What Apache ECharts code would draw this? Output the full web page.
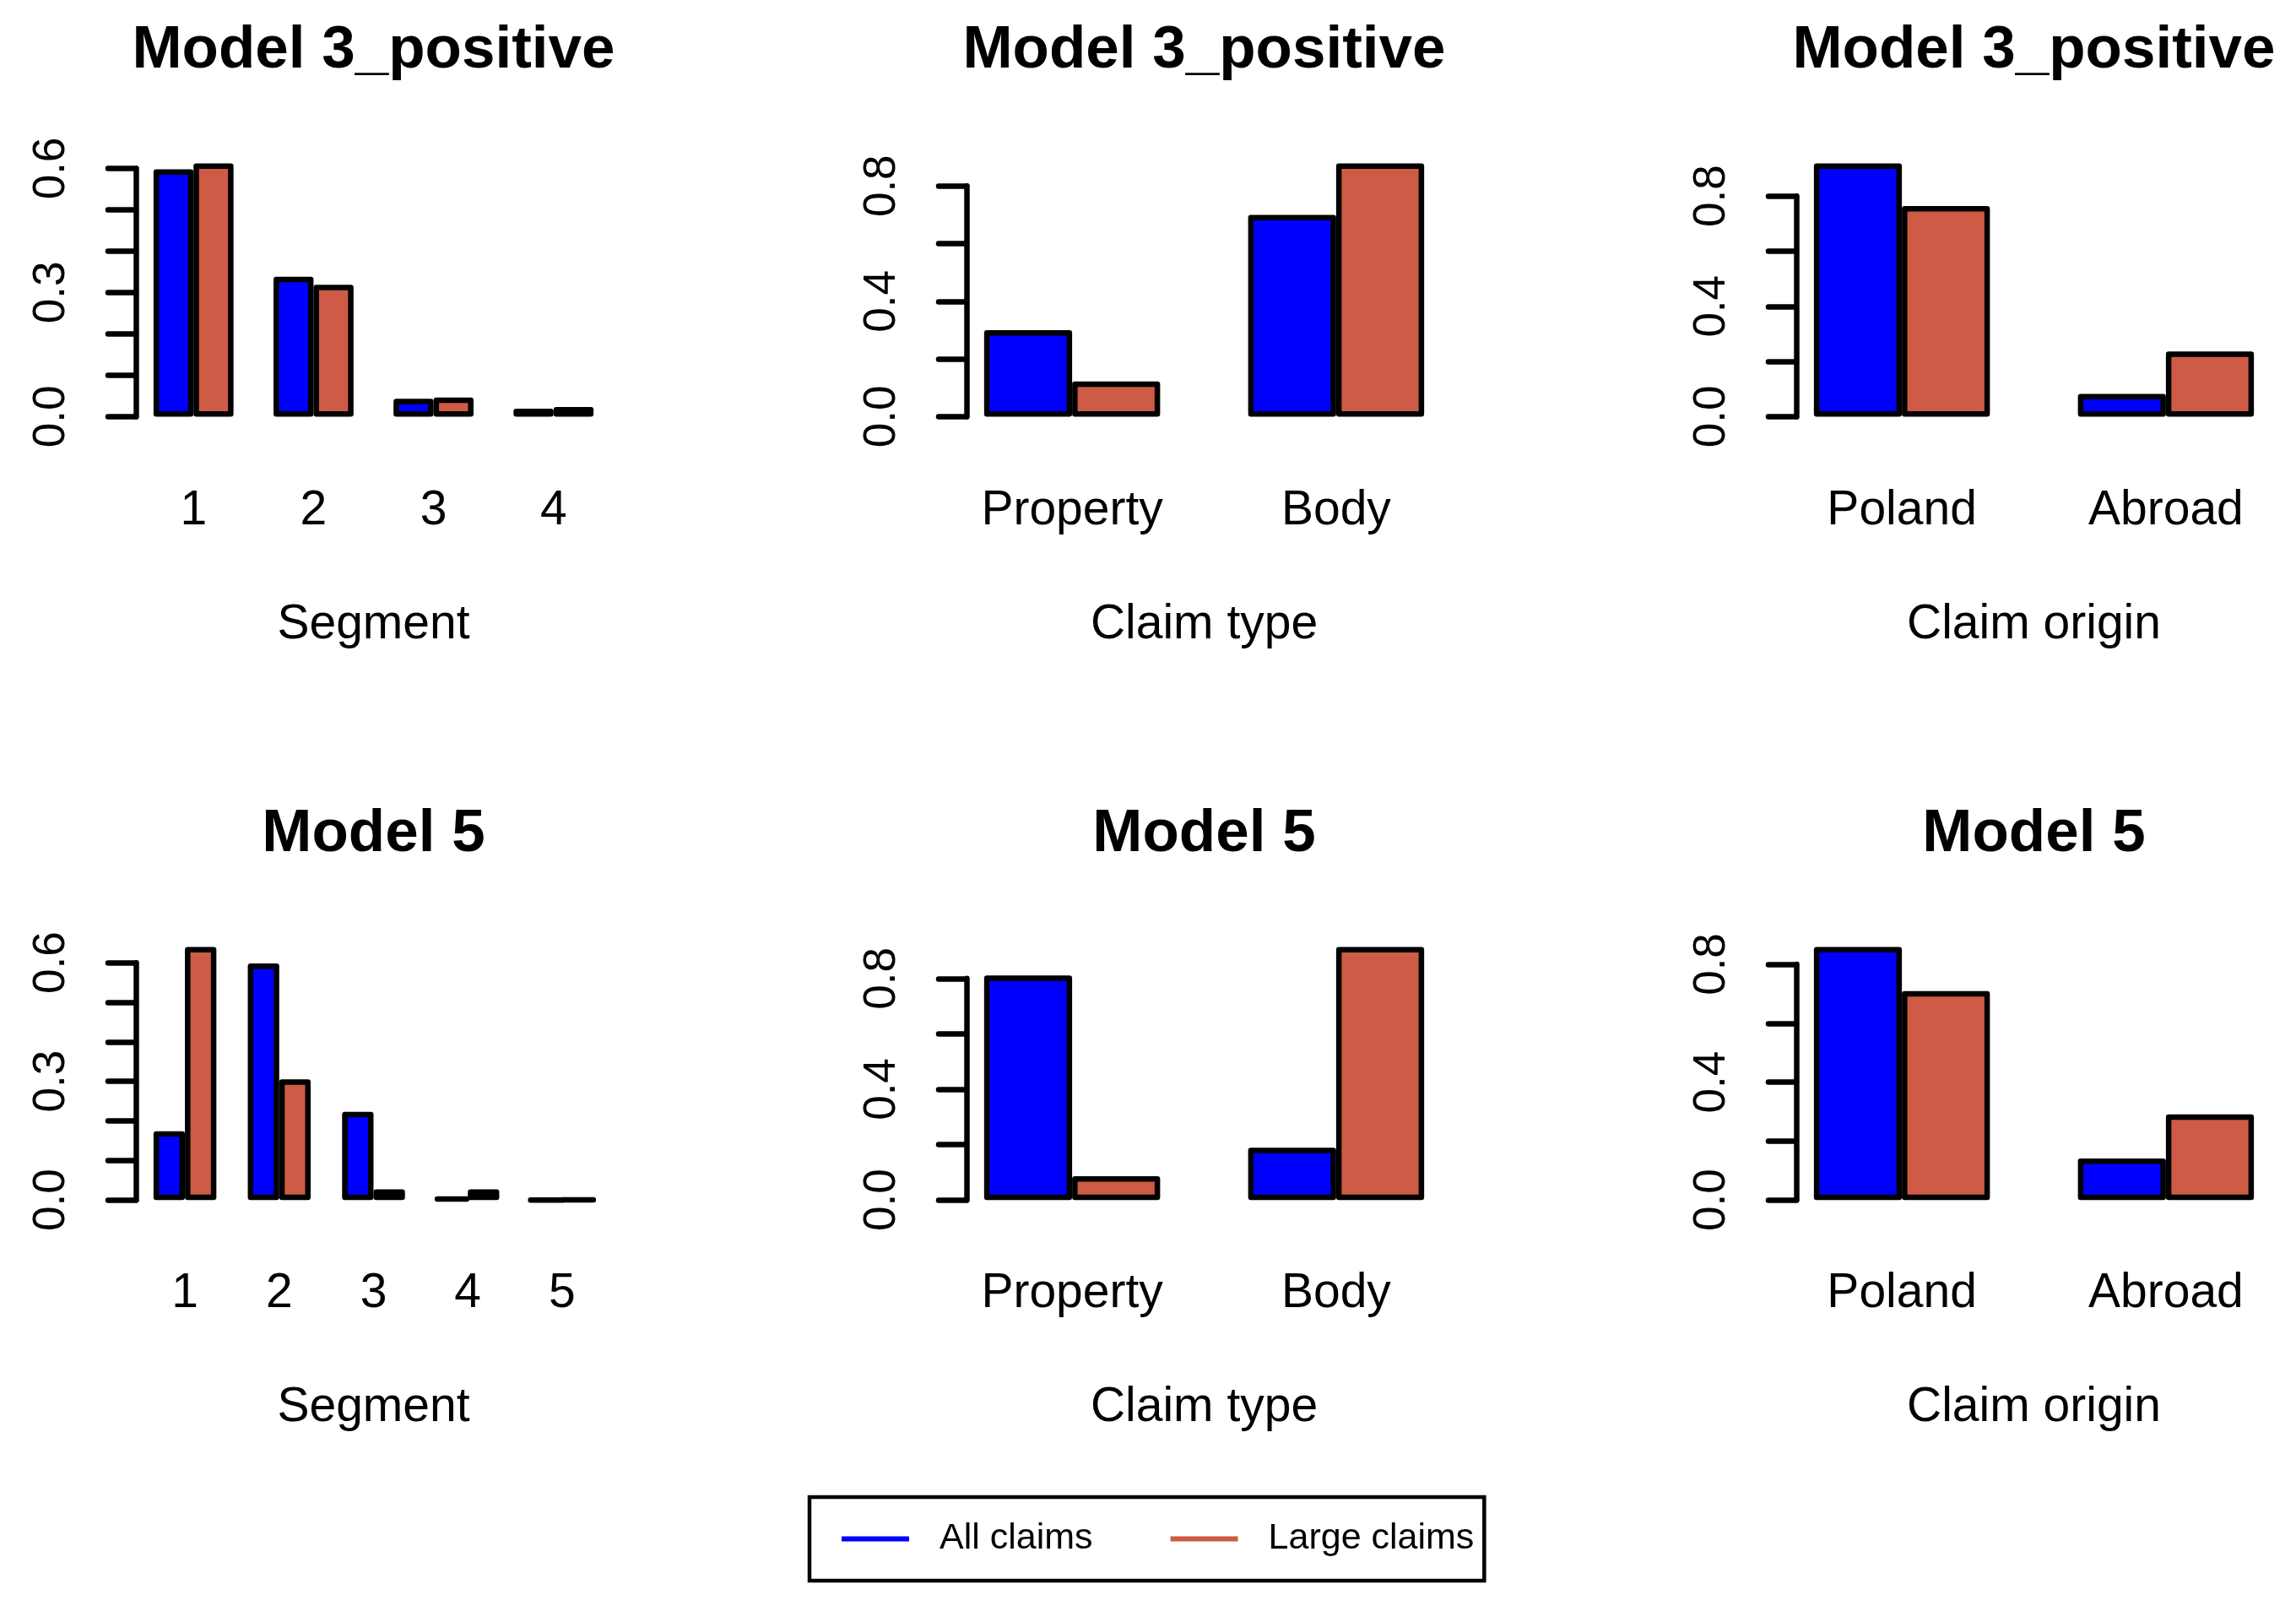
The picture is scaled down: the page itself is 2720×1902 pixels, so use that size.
<!DOCTYPE html>
<html>
<head>
<meta charset="utf-8">
<script src="https://cdn.jsdelivr.net/npm/echarts@6/dist/echarts.min.js"></script>
<style>
html,body{margin:0;padding:0;background:#ffffff;}
#chart{width:2720px;height:1902px;}
</style>
</head>
<body>
<div id="chart"></div>
<script>
// ---------------- data ----------------
const seriesNames = ['All claims', 'Large claims'];
const segments4 = ['1', '2', '3', '4'];
const segments5 = ['1', '2', '3', '4', '5'];
const claimTypes = ['Property', 'Body'];
const claimOrigins = ['Poland', 'Abroad'];

const m3SegmentAll   = [0.598, 0.338, 0.043, 0.019];
const m3SegmentLarge = [0.612, 0.319, 0.046, 0.023];
const m3TypeAll      = [0.300, 0.700];
const m3TypeLarge    = [0.122, 0.878];
const m3OriginAll    = [0.918, 0.082];
const m3OriginLarge  = [0.764, 0.236];

const m5SegmentAll   = [0.174, 0.598, 0.223, 0.005, 0.000];
const m5SegmentLarge = [0.640, 0.305, 0.027, 0.027, 0.001];
const m5TypeAll      = [0.811, 0.189];
const m5TypeLarge    = [0.086, 0.914];
const m5OriginAll    = [0.859, 0.141];
const m5OriginLarge  = [0.709, 0.291];

const ticksFineLabels   = ['0.0', '0.3', '0.6'];
const ticksCoarseLabels = ['0.0', '0.4', '0.8'];
const panelTitles = ['Model 3_positive', 'Model 3_positive', 'Model 3_positive', 'Model 5', 'Model 5', 'Model 5'];
const axisTitles = ['Segment', 'Claim type', 'Claim origin'];

const panels = [
  { title: panelTitles[0], cats: segments4,    all: m3SegmentAll, large: m3SegmentLarge, xName: axisTitles[0], top: 0.6, step: 0.1, labels: ticksFineLabels },
  { title: panelTitles[1], cats: claimTypes,   all: m3TypeAll,    large: m3TypeLarge,    xName: axisTitles[1], top: 0.8, step: 0.2, labels: ticksCoarseLabels },
  { title: panelTitles[2], cats: claimOrigins, all: m3OriginAll,  large: m3OriginLarge,  xName: axisTitles[2], top: 0.8, step: 0.2, labels: ticksCoarseLabels },
  { title: panelTitles[3], cats: segments5,    all: m5SegmentAll, large: m5SegmentLarge, xName: axisTitles[0], top: 0.6, step: 0.1, labels: ticksFineLabels },
  { title: panelTitles[4], cats: claimTypes,   all: m5TypeAll,    large: m5TypeLarge,    xName: axisTitles[1], top: 0.8, step: 0.2, labels: ticksCoarseLabels },
  { title: panelTitles[5], cats: claimOrigins, all: m5OriginAll,  large: m5OriginLarge,  xName: axisTitles[2], top: 0.8, step: 0.2, labels: ticksCoarseLabels }
];

// ---------------- layout / style ----------------
const FONT = 'Liberation Sans, Arial, Helvetica, sans-serif';
const BLUE = '#0000FF';
const RED = '#CD5B45';
const PLOT_LEFT = [161, 1145, 2128];
const PLOT_W = 563;
const PLOT_BOTTOM = [508.5, 1436.3];
const PLOT_H = 327;
const TITLE_ABOVE = 121;
const LW = 6.5;

const grids = [], xAxes = [], yAxes = [], series = [], titles = [];

panels.forEach((p, i) => {
  const r = Math.floor(i / 3), c = i % 3;
  const n = p.cats.length;
  // horizontal user range (R barplot style: bars width 1, group space 1, 4% extension)
  const units = 3 * n - 1;
  const extX = 0.04 * units;
  const usr0 = 1 - extX;
  const pxX = PLOT_W / (units + 2 * extX);
  const gridLeft = PLOT_LEFT[c] + (0.5 - usr0) * pxX;
  const gridW = 3 * n * pxX;
  // vertical user range
  const M = Math.max(...p.all, ...p.large);
  const lo = -0.01 * M;
  const extY = 0.04 * (M - lo);
  const y0 = lo - extY, y1 = M + extY;
  const pxY = PLOT_H / (y1 - y0);
  const zero = PLOT_BOTTOM[r] + y0 * pxY;
  const gridTop = zero - p.top * pxY;
  const gridH = p.top * pxY;

  grids.push({ left: gridLeft, top: gridTop, width: gridW, height: gridH, containLabel: false, outerBoundsMode: 'none' });

  xAxes.push({
    type: 'category', gridIndex: i, data: p.cats,
    axisLine: { show: false }, axisTick: { show: false }, splitLine: { show: false },
    axisLabel: { interval: 0, margin: 83, fontSize: 57, fontFamily: FONT, color: '#000' },
    name: p.xName, nameLocation: 'middle', nameGap: 218,
    nameTextStyle: { fontSize: 57, fontFamily: FONT, color: '#000' }
  });

  const labelSet = p.labels;
  yAxes.push({
    type: 'value', gridIndex: i, min: 0, max: p.top, interval: p.step,
    offset: gridLeft - PLOT_LEFT[c],
    axisLine: { show: true, lineStyle: { color: '#000', width: LW, cap: 'round' } },
    axisTick: { show: true, length: 33, lineStyle: { color: '#000', width: LW, cap: 'round' } },
    splitLine: { show: false },
    axisLabel: {
      rotate: 90, margin: 73, fontSize: 53, fontFamily: FONT, color: '#000',
      showMinLabel: true, showMaxLabel: true,
      formatter: v => { const s = Number(v).toFixed(1); return labelSet.includes(s) ? s : ''; }
    }
  });

  [p.all, p.large].forEach((vals, k) => {
    series.push({
      type: 'bar', name: seriesNames[k], xAxisIndex: i, yAxisIndex: i,
      data: vals, barGap: '0%', barCategoryGap: '33.3333%', clip: false, silent: true,
      itemStyle: { color: k === 0 ? BLUE : RED, borderColor: '#000', borderWidth: LW, borderJoin: 'round' },
      emphasis: { disabled: true }
    });
  });

  titles.push({
    text: p.title,
    left: PLOT_LEFT[c] + PLOT_W / 2,
    top: PLOT_BOTTOM[r] - PLOT_H - TITLE_ABOVE,
    textAlign: 'center', textVerticalAlign: 'middle', padding: 0,
    textStyle: { fontSize: 71, fontWeight: 'bold', fontFamily: FONT, color: '#000' }
  });
});

const chart = echarts.init(document.getElementById('chart'), null, { renderer: 'canvas' });
chart.setOption({
  animation: false,
  backgroundColor: '#ffffff',
  title: titles,
  grid: grids,
  xAxis: xAxes,
  yAxis: yAxes,
  series: series,
  legend: {
    data: seriesNames.map(s => ({ name: s, icon: 'rect' })),
    left: 959, top: 1773, orient: 'horizontal',
    padding: [28, 12, 28, 38],
    itemGap: 92, itemWidth: 80, itemHeight: 6,
    itemStyle: { borderWidth: 0 },
    borderColor: '#000', borderWidth: 4.5,
    selectedMode: false,
    textStyle: { fontSize: 43, fontFamily: FONT, color: '#000', padding: [0, 0, 0, 31], lineHeight: 43 }
  }
});
</script>
</body>
</html>
